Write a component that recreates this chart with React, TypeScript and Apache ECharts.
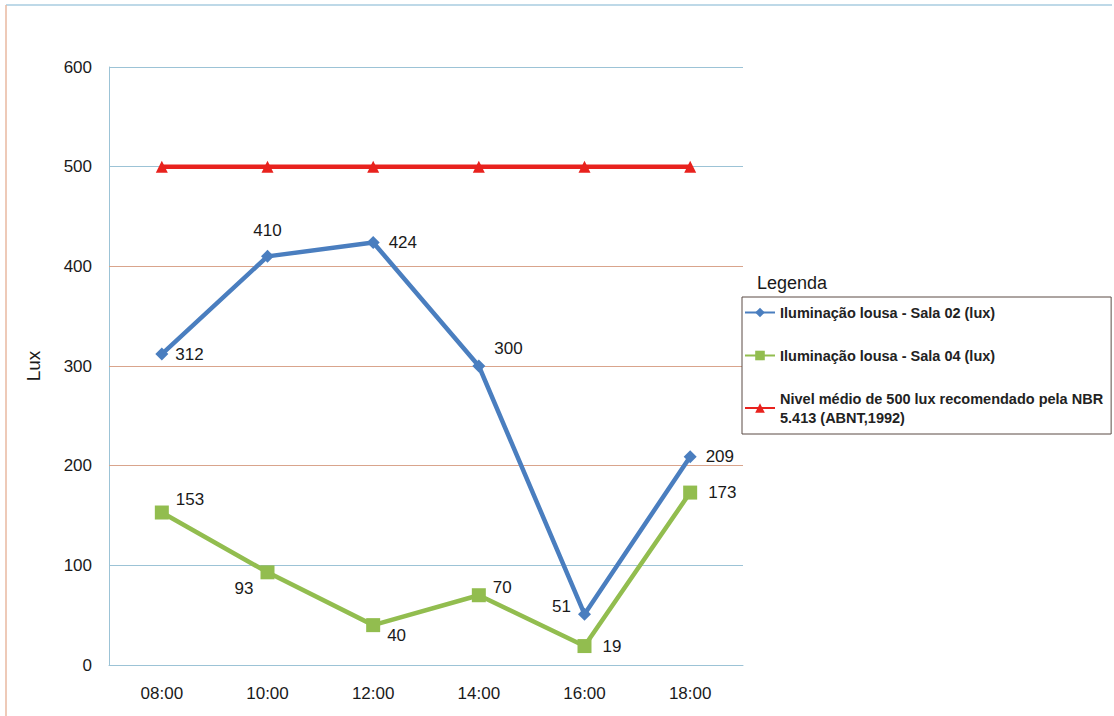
import React, { useEffect, useRef } from "react";
import * as echarts from "echarts";

const categories = ["08:00", "10:00", "12:00", "14:00", "16:00", "18:00"];
const sala02 = [312, 410, 424, 300, 51, 209];
const sala04 = [153, 93, 40, 70, 19, 173];
const nivel = [500, 500, 500, 500, 500, 500];
const yTicks = { min: 0, max: 600, interval: 100 };
const redGridValues = [200, 300, 400];

const names = [
  "Iluminação lousa - Sala 02 (lux)",
  "Iluminação lousa - Sala 04 (lux)",
  "Nivel médio de 500 lux recomendado pela NBR\n5.413 (ABNT,1992)",
];

const FONT = "'Liberation Sans', Arial, sans-serif";

const blueLabelPos: any[] = [
  { position: "right", offset: [2, 0] },
  { position: "top", offset: [0, -6] },
  { position: "right", offset: [4, 0] },
  { position: "right", offset: [4, -18] },
  { position: "left", offset: [-2, -8] },
  { position: "right", offset: [4, 0] },
];
const greenLabelPos: any[] = [
  { position: "right", offset: [2, -13] },
  { position: "left", offset: [-2, 16] },
  { position: "right", offset: [2, 10] },
  { position: "right", offset: [2, -8] },
  { position: "right", offset: [6, 0] },
  { position: "right", offset: [6, 0] },
];

export default function App() {
  const ref = useRef<HTMLDivElement>(null);
  useEffect(() => {
    document.body.style.margin = "0";
    const chart = echarts.init(ref.current!, null, { renderer: "svg" });
    const labelBase = { show: true, fontSize: 17, color: "#1a1a1a", fontFamily: FONT };
    chart.setOption({
      animation: false,
      backgroundColor: "#ffffff",
      textStyle: { fontFamily: FONT },
      grid: { left: 109, top: 67, width: 634, height: 598, containLabel: false },
      xAxis: {
        type: "category",
        data: categories,
        boundaryGap: true,
        axisLine: { show: true, lineStyle: { color: "#9cc3d6", width: 1 } },
        axisTick: { show: false },
        axisLabel: { fontSize: 17, color: "#1a1a1a", margin: 20, fontFamily: FONT },
      },
      yAxis: {
        type: "value",
        min: yTicks.min,
        max: yTicks.max,
        interval: yTicks.interval,
        name: "Lux",
        nameLocation: "middle",
        nameGap: 66,
        nameRotate: 90,
        nameTextStyle: { fontSize: 19, color: "#1a1a1a", fontFamily: FONT },
        axisLine: { show: true, lineStyle: { color: "#9cc3d6", width: 1 } },
        axisTick: { show: false },
        axisLabel: { fontSize: 17, color: "#1a1a1a", margin: 17, fontFamily: FONT },
        splitLine: { show: true, lineStyle: { color: "#9cc3d6", width: 1 } },
      },
      legend: {
        orient: "vertical",
        left: 742,
        top: 297,
        padding: [6, 8, 7, 2],
        itemGap: 24,
        itemWidth: 30,
        itemHeight: 12,
        borderColor: "#5b4b45",
        borderWidth: 1,
        backgroundColor: "#ffffff",
        textStyle: { fontSize: 14.5, fontWeight: "bold", color: "#222", fontFamily: FONT, lineHeight: 19 },
        data: names,
      },
      graphic: [
        { type: "text", left: 757, top: 274, style: { text: "Legenda", fontSize: 18, fill: "#1a1a1a", fontFamily: FONT } },
        { type: "line", shape: { x1: 6, y1: 5, x2: 1112, y2: 5 }, style: { stroke: "#a9cde0", lineWidth: 1.5 } },
        { type: "line", shape: { x1: 6, y1: 5, x2: 6, y2: 716 }, style: { stroke: "#e8b8a0", lineWidth: 1.5 } },
      ],
      series: [
        {
          name: names[2],
          type: "line",
          data: nivel,
          symbol: "triangle",
          symbolSize: 12,
          lineStyle: { color: "#e8221e", width: 4.5 },
          itemStyle: { color: "#e8221e" },
          z: 3,
          markLine: {
            silent: true,
            symbol: "none",
            label: { show: false },
            lineStyle: { color: "#d9a48c", width: 1, type: "solid" },
            data: redGridValues.map((v) => ({ yAxis: v })),
            z: 1,
          },
        },
        {
          name: names[0],
          type: "line",
          data: sala02.map((v, i) => ({ value: v, label: { ...labelBase, ...blueLabelPos[i] } })),
          symbol: "diamond",
          symbolSize: 13,
          lineStyle: { color: "#4a7ebf", width: 4.5 },
          itemStyle: { color: "#4a7ebf" },
          label: labelBase,
          z: 4,
        },
        {
          name: names[1],
          type: "line",
          data: sala04.map((v, i) => ({ value: v, label: { ...labelBase, ...greenLabelPos[i] } })),
          symbol: "rect",
          symbolSize: 14,
          lineStyle: { color: "#92bd4f", width: 4.5 },
          itemStyle: { color: "#92bd4f" },
          label: labelBase,
          z: 4,
        },
      ],
    });
    return () => chart.dispose();
  }, []);
  return <div ref={ref} style={{ width: 1114, height: 716 }} />;
}
